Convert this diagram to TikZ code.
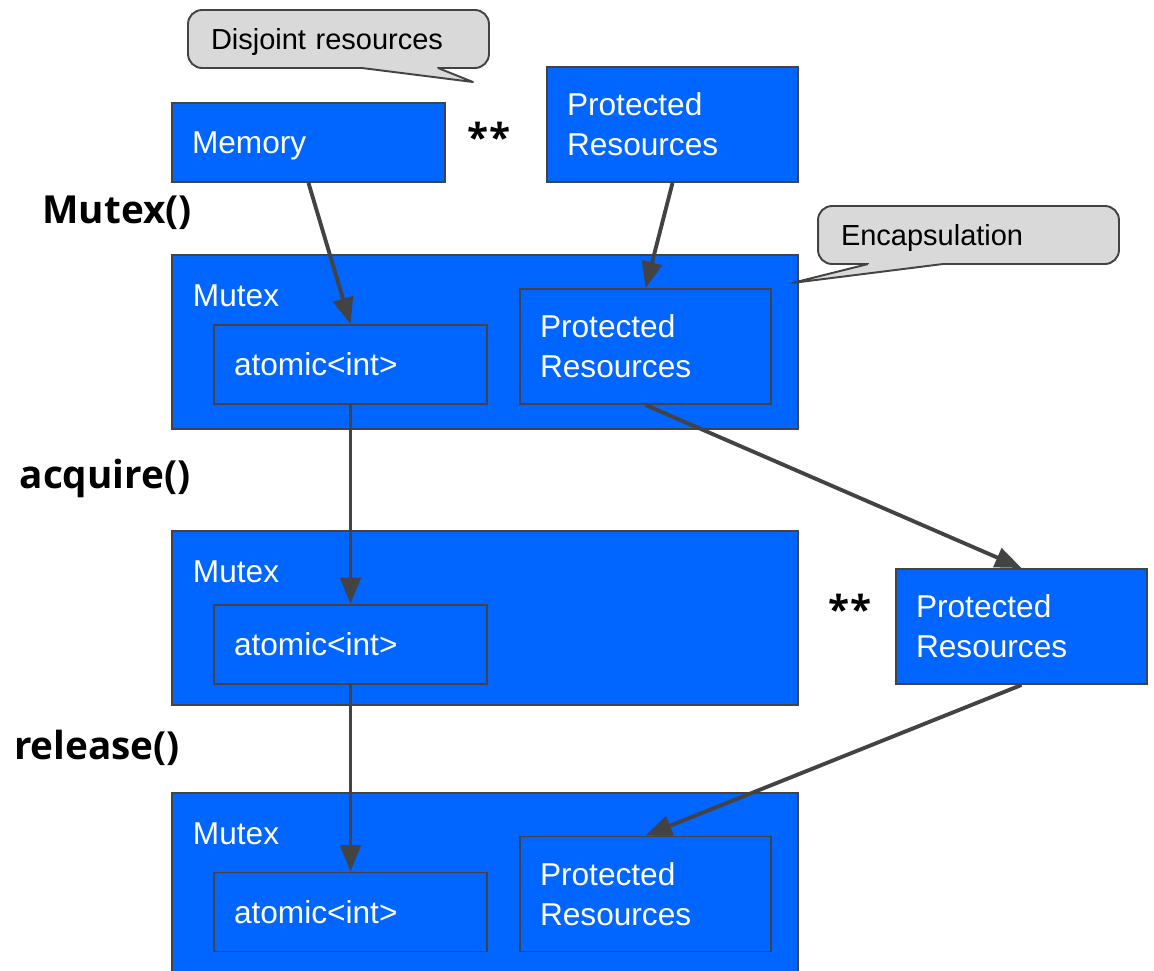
\documentclass[tikz,border=0pt]{standalone}
\usepackage{fontspec}
\setmainfont{Liberation Sans}
\newfontfamily\callfont{Open Sans}
\usetikzlibrary{arrows.meta}
\definecolor{boxblue}{RGB}{0,102,255}
\definecolor{edgegray}{RGB}{67,67,67}
\definecolor{notegray}{RGB}{217,217,217}

\tikzset{
  box/.style={draw=edgegray, line width=1.1pt, fill=boxblue, text=white, align=left,
    inner xsep=0.4cm, inner ysep=0pt, font=\fontsize{18}{22.7}\selectfont},
  mutexbox/.style={box, minimum width=12.52cm, minimum height=3.48cm},
  smallbox/.style={box, text width=4.66cm, minimum height=1.58cm, text depth=0pt},
  protbox/.style={box, text width=4.22cm, minimum height=2.30cm},
  note/.style={draw=edgegray, line width=1.1pt, fill=notegray, rounded corners=8pt, align=left,
    inner xsep=0.46cm, text width=5.10cm, minimum height=1.16cm, text depth=0pt,
    font=\fontsize{16.5}{20}\selectfont},
  tag/.style={font=\callfont\bfseries\fontsize{22}{26}\selectfont},
  flow/.style={draw=edgegray, line width=2.2pt, -{Triangle[length=15pt, width=11.5pt]}}
}

\begin{document}
\begin{tikzpicture}[x=0.02cm, y=-0.02cm]
    \useasboundingbox (0,0) rectangle (1154,971);

    % Top row
    \node[smallbox] (mem) at (308.5,142.5) {Memory};
    \node[protbox] (protTop) at (672.5,124.5) {Protected\\Resources};
    \node[tag, anchor=base] (starTop) at (489,151) {**};

    % Mutex after constructor
    \node[mutexbox] (mutexA) at (485,342) {};
    \node[box, draw=none, fill=none, anchor=west, inner xsep=0pt] (nameA) at (192,296) {Mutex};
    \node[smallbox] (atomA) at (350.5,364.5) {atomic<int>};
    \node[protbox] (protA) at (645.5,346.5) {Protected\\Resources};

    % Mutex after acquire
    \node[mutexbox] (mutexB) at (485,618) {};
    \node[box, draw=none, fill=none, anchor=west, inner xsep=0pt] (nameB) at (192,572) {Mutex};
    \node[smallbox] (atomB) at (350.5,644.5) {atomic<int>};
    \node[protbox] (protFree) at (1021.5,626.5) {Protected\\Resources};
    \node[tag, anchor=base] (starFree) at (850,623) {**};

    % Mutex after release (runs off the bottom edge)
    \node[mutexbox, minimum height=3.6cm] (mutexC) at (485,883) {};
    \node[box, draw=none, fill=none, anchor=west, inner xsep=0pt] (nameC) at (192,834) {Mutex};
    \node[smallbox] (atomC) at (350.5,912) {atomic<int>};
    \node[protbox] (protC) at (645.5,894) {Protected\\Resources};

    % Step labels
    \node[tag] (lblCtor) at (117,213) {Mutex()};
    \node[tag] (lblAcquire) at (105,478) {acquire()};
    \node[tag] (lblRelease) at (97,748) {release()};

    % Arrows
    \draw[flow] (mem.south) -- (atomA.north);
    \draw[flow] (protTop.south) -- (protA.north);
    \draw[flow] (atomA.south) -- (atomB.north);
    \draw[flow] (protA.south) -- (protFree.north);
    \draw[flow] (atomB.south) -- (atomC.north);
    \draw[flow] (protFree.south) -- (protC.north);

    % Callouts
    \node[note] (noteDisjoint) at (338.5,39) {Disjoint resources};
    \coordinate (tipDisjoint) at (473,82);
    \fill[notegray] (363,65) -- (363,68) -- (tipDisjoint) -- (437,68) -- (437,65) -- cycle;
    \draw[edgegray, line width=1.1pt, line join=round] (362,68) -- (tipDisjoint) -- (438,68);

    \node[note] (noteEncap) at (968.5,235) {Encapsulation};
    \coordinate (tipEncap) at (792,283);
    \fill[notegray] (869,261) -- (869,264) -- (tipEncap) -- (942,264) -- (942,261) -- cycle;
    \draw[edgegray, line width=1.1pt, line join=round] (868,264) -- (tipEncap) -- (943,264);
\end{tikzpicture}
\end{document}
